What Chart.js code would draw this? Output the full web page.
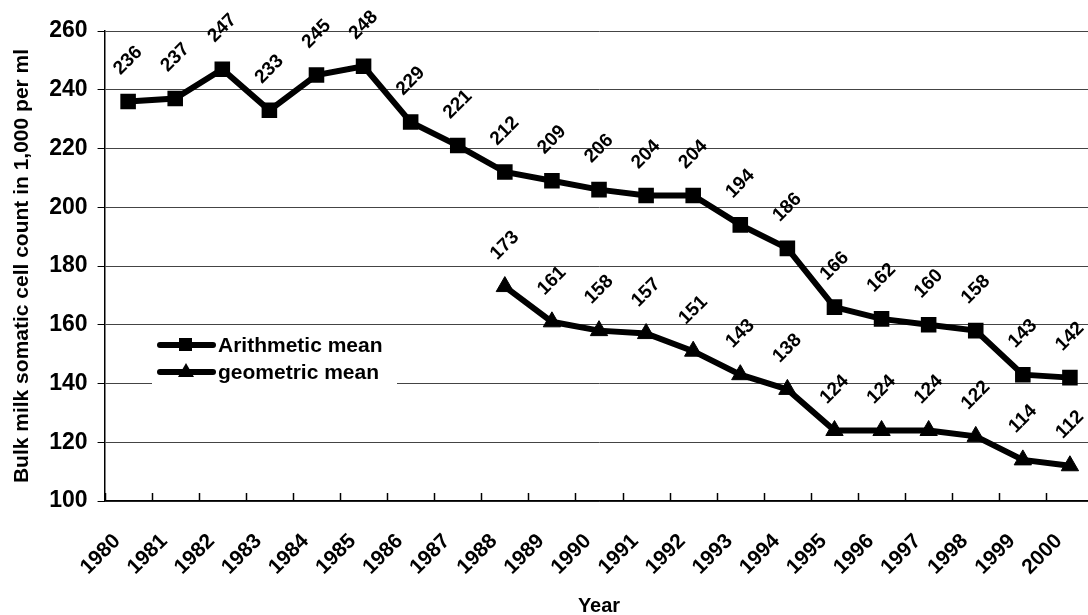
<!DOCTYPE html>
<html>
<head>
<meta charset="utf-8">
<script src="https://cdn.jsdelivr.net/npm/chart.js@4.4.1/dist/chart.umd.min.js"></script>
<style>
 html,body{margin:0;padding:0;background:#fff;overflow:hidden;}
 #caja{width:1116px;height:615px;position:relative;}
</style>
</head>
<body>
<div id="caja"><canvas id="grafico"></canvas></div>
<script>
// datos
const anios=["1980","1981","1982","1983","1984","1985","1986","1987","1988","1989","1990","1991","1992","1993","1994","1995","1996","1997","1998","1999","2000"];
const mediaAritmetica=[236,237,247,233,245,248,229,221,212,209,206,204,204,194,186,166,162,160,158,143,142];
const mediaGeometrica=[null,null,null,null,null,null,null,null,173,161,158,157,151,143,138,124,124,124,122,114,112];
const ticksY=[100,120,140,160,180,200,220,240,260];

const FUENTE="'Liberation Sans', Arial, sans-serif";

// etiquetas rotadas encima de cada punto
const pluginEtiquetas={
 id:'etiquetas',
 afterDatasetsDraw(chart){
  const ctx=chart.ctx;
  ctx.save();
  ctx.font="bold 19px "+FUENTE;
  ctx.fillStyle="#000";
  ctx.textAlign="center";
  ctx.textBaseline="middle";
  chart.data.datasets.forEach((ds,i)=>{
   const meta=chart.getDatasetMeta(i);
   meta.data.forEach((p,j)=>{
    if(ds.data[j]==null) return;
    ctx.save();
    ctx.translate(p.x,p.y-41);
    ctx.rotate(-Math.PI/4);
    ctx.fillText(String(ds.data[j]),0,0);
    ctx.restore();
   });
  });
  ctx.restore();
 }
};

// marcas del eje x hacia adentro y leyenda dentro del area
const pluginExtras={
 id:'extras',
 afterDraw(chart){
  const ctx=chart.ctx;
  const x=chart.scales.x, area=chart.chartArea;
  const paso=(area.right-area.left)/anios.length;
  ctx.save();
  ctx.strokeStyle="#000";
  ctx.lineWidth=1.5;
  for(let i=0;i<=anios.length;i++){
   const px=Math.round(x.getPixelForValue(i)-paso/2)+0.5;
   ctx.beginPath();ctx.moveTo(px,area.bottom);ctx.lineTo(px,area.bottom-8);ctx.stroke();
  }
  // leyenda
  ctx.fillStyle="#fff";
  ctx.fillRect(152,330,245,62);
  const items=[{t:"Arithmetic mean",m:"rect",y:345},{t:"geometric mean",m:"triangle",y:372}];
  items.forEach(it=>{
   ctx.strokeStyle="#000";ctx.lineWidth=6;ctx.lineCap="round";
   ctx.beginPath();ctx.moveTo(160,it.y);ctx.lineTo(213,it.y);ctx.stroke();
   ctx.fillStyle="#000";
   if(it.m=="rect"){ctx.fillRect(179,it.y-7,13,13);}
   else{ctx.beginPath();ctx.moveTo(186,it.y-9);ctx.lineTo(194,it.y+5);ctx.lineTo(178,it.y+5);ctx.closePath();ctx.fill();}
   ctx.font="bold 21px "+FUENTE;
   ctx.textAlign="left";ctx.textBaseline="middle";
   ctx.fillText(it.t,218,it.y+1);
  });
  ctx.restore();
 }
};

const canvas=document.getElementById("grafico");
new Chart(canvas,{
 type:'line',
 data:{
  labels:anios,
  datasets:[
   {label:"Arithmetic mean",data:mediaAritmetica,borderColor:"#000",backgroundColor:"#000",borderWidth:6,pointStyle:'rect',pointRadius:11,pointBorderWidth:0,tension:0},
   {label:"geometric mean",data:mediaGeometrica,borderColor:"#000",backgroundColor:"#000",borderWidth:6,pointStyle:'triangle',pointRadius:10,pointBorderWidth:1,tension:0}
  ]
 },
 options:{
  responsive:true,
  maintainAspectRatio:false,
  animation:false,
  layout:{padding:{top:31,right:4,left:6,bottom:0}},
  plugins:{legend:{display:false},tooltip:{enabled:false}},
  scales:{
   x:{
    offset:true,
    afterFit(s){s.height=114;},
    grid:{display:false,drawTicks:false},
    border:{display:true,color:"#000",width:1.5},
    ticks:{color:"#000",font:{family:FUENTE,size:21,weight:'bold'},maxRotation:45,minRotation:45,padding:28,labelOffset:-11,autoSkip:false},
    title:{display:true,text:"Year",color:"#000",font:{family:FUENTE,size:20,weight:'bold'},padding:{top:4,bottom:-3}}
   },
   y:{
    min:100,max:260,
    afterBuildTicks(s){s.ticks=ticksY.map(v=>({value:v}));},
    grid:{color:"#444",lineWidth:1,tickLength:7,tickColor:"#000"},
    border:{display:true,color:"#000",width:1.5},
    ticks:{color:"#000",font:{family:FUENTE,size:23,weight:'bold'},padding:10},
    title:{display:true,text:"Bulk milk somatic cell count in 1,000 per ml",color:"#000",font:{family:FUENTE,size:21,weight:'bold'},padding:{top:4,bottom:4}}
   }
  }
 },
 plugins:[pluginEtiquetas,pluginExtras]
});
</script>
</body>
</html>
